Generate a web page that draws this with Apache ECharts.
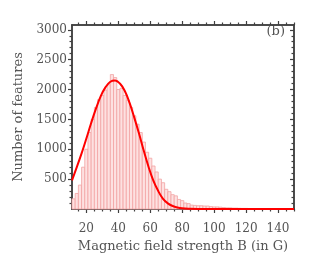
<!DOCTYPE html>
<html>
<head>
<meta charset="utf-8">
<script src="https://cdn.jsdelivr.net/npm/echarts@6/dist/echarts.min.js"></script>
<style>html,body{margin:0;padding:0;background:#fff}#c{width:327px;height:262px}</style>
</head>
<body>
<div id="c"></div>
<script>
// Histogram: bin start (G) and counts, bin width 2 G
const binWidth = 2;
const binStarts = [11,13,15,17,19,21,23,25,27,29,31,33,35,37,39,41,43,45,47,49,51,53,55,57,59,61,63,65,67,69,71,73,75,77,79,81,83,85,87,89,91,93,95,97,99,101,103,105,107,109,111,113,115,117,119,121,123,125,127,129,131,133,135,137,139,141,143,145,147];
const counts = [170,260,400,700,1000,1280,1500,1700,1830,1900,1990,2080,2250,2200,2000,2020,1900,1820,1700,1560,1420,1280,1120,950,850,720,620,500,440,330,290,240,220,160,140,100,90,65,60,55,55,50,50,40,35,35,30,25,20,20,15,15,12,10,10,8,8,6,6,5,5,4,4,3,3,3,2,2,2];
// Fitted curve points (B, count)
const fitB = [11,14,17,20,23,26,29,32,35,38,41,44,47,50,53,56,59,62,65,68,71,74,77,80,85,90,100,120,150];
const fitN = [480,700,930,1180,1440,1680,1890,2040,2130,2150,2100,1980,1780,1530,1260,970,700,470,300,170,95,50,25,12,5,2,0,0,0];
// Axis ticks
const xMajor = [20,40,60,80,100,120,140];
const xMinor = [15,25,30,35,45,50,55,65,70,75,85,90,95,105,110,115,125,130,135,145,150];
const yMajor = [500,1000,1500,2000,2500,3000];
const yMinor = [100,200,300,400,600,700,800,900,1100,1200,1300,1400,1600,1700,1800,1900,2100,2200,2300,2400,2600,2700,2800,2900];
const xTitle = 'Magnetic field strength B (in G)';
const yTitle = 'Number of features';
const panelLabel = '(b)';

const xMin = 11, xMax = 150, yMin = 0, yMax = 3080;
const axisColor = '#404040';
const textColor = '#555';
const font = 'DejaVu Serif';

function xAx(pos, ticks, len, inside, labels, name) {
  return {
    type: 'value', position: pos, min: xMin, max: xMax,
    splitLine: {show: false},
    axisLine: {show: true, onZero: false, lineStyle: {color: axisColor, width: 1.5}},
    axisTick: {show: true, inside: inside, length: len, customValues: ticks, lineStyle: {color: axisColor, width: 1.2}},
    axisLabel: labels ? {show: true, customValues: xMajor, margin: 14, color: textColor, fontFamily: font, fontSize: 12,
      formatter: v => String(v)} : {show: false},
    name: name || '', nameLocation: 'middle', nameGap: 29,
    nameTextStyle: {color: textColor, fontFamily: font, fontSize: 13}
  };
}
function yAx(pos, ticks, len, inside, labels, name) {
  return {
    type: 'value', position: pos, min: yMin, max: yMax,
    splitLine: {show: false},
    axisLine: {show: true, onZero: false, lineStyle: {color: axisColor, width: 1.5}},
    axisTick: {show: true, inside: inside, length: len, customValues: ticks, lineStyle: {color: axisColor, width: 1.2}},
    axisLabel: labels ? {show: true, customValues: yMajor, margin: 5, color: textColor, fontFamily: font, fontSize: 12,
      formatter: v => String(v)} : {show: false},
    name: name || '', nameLocation: 'middle', nameGap: 43, nameRotate: 90,
    nameTextStyle: {color: textColor, fontFamily: font, fontSize: 13}
  };
}

const chart = echarts.init(document.getElementById('c'), null, {renderer: 'canvas'});
chart.setOption({
  animation: false,
  backgroundColor: '#fff',
  grid: {left: 72, right: 33, top: 25, bottom: 53},
  xAxis: [
    xAx('bottom', xMajor, 4, false, true, xTitle),
    xAx('bottom', xMinor, 2.5, false, false),
    xAx('top', xMajor, 4, false, false),
    xAx('top', xMinor, 2.5, false, false)
  ],
  yAxis: [
    yAx('left', yMajor, 4, false, true, yTitle),
    yAx('left', yMinor, 2.5, false, false),
    yAx('right', yMajor, 4, true, false),
    yAx('right', yMinor, 2.5, true, false)
  ],
  graphic: [{
    type: 'text', right: 42, top: 25,
    style: {text: panelLabel, fill: textColor, font: '13px "DejaVu Serif"'}
  }],
  series: [
    {
      type: 'custom', xAxisIndex: 0, yAxisIndex: 0,
      data: binStarts.map((b, i) => [b, counts[i]]),
      renderItem: function (params, api) {
        const x0 = api.value(0), v = api.value(1);
        const p0 = api.coord([x0, v]);
        const p1 = api.coord([x0 + binWidth, 0]);
        return {
          type: 'rect',
          shape: {x: p0[0], y: p0[1], width: p1[0] - p0[0], height: p1[1] - p0[1]},
          style: {fill: '#fde1e1', stroke: '#f2a3a3', lineWidth: 0.8}
        };
      },
      z: 2
    },
    {
      type: 'line', xAxisIndex: 0, yAxisIndex: 0,
      data: fitB.map((b, i) => [b, fitN[i]]),
      smooth: 0.4, showSymbol: false, clip: false,
      lineStyle: {color: '#ff0000', width: 2},
      z: 3
    }
  ]
});
</script>
</body>
</html>
